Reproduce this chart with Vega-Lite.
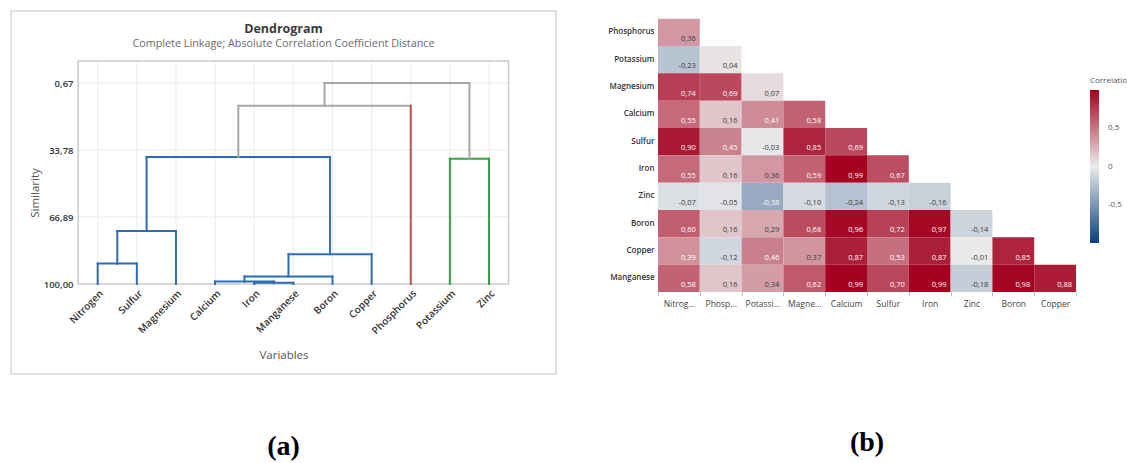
{
  "$schema": "https://vega.github.io/schema/vega-lite/v6.json",
  "background": "white",
  "padding": {"left": 10, "top": 10, "right": 0, "bottom": 0},
  "config": {
    "font": "Open Sans",
    "view": {"stroke": null},
    "locale": {
      "number": {"decimal": ",", "thousands": ".", "grouping": [3], "currency": ["", " €"], "minus": "-"}
    }
  },
  "spacing": 50,
  "resolve": {"scale": {"color": "independent"}},
  "datasets": {
    "leaves": [
      {"leaf": 1, "element": "Nitrogen"},
      {"leaf": 2, "element": "Sulfur"},
      {"leaf": 3, "element": "Magnesium"},
      {"leaf": 4, "element": "Calcium"},
      {"leaf": 5, "element": "Iron"},
      {"leaf": 6, "element": "Manganese"},
      {"leaf": 7, "element": "Boron"},
      {"leaf": 8, "element": "Copper"},
      {"leaf": 9, "element": "Phosphorus"},
      {"leaf": 10, "element": "Potassium"},
      {"leaf": 11, "element": "Zinc"}
    ],
    "sim_ticks": [
      {"similarity": 0.67},
      {"similarity": 33.78},
      {"similarity": 66.89}
    ],
    "links": [
      {"leaf_from": 1, "sim_from": 100, "leaf_to": 1, "sim_to": 89.9, "branch": "cluster1"},
      {"leaf_from": 2, "sim_from": 100, "leaf_to": 2, "sim_to": 89.9, "branch": "cluster1"},
      {"leaf_from": 1, "sim_from": 89.9, "leaf_to": 2, "sim_to": 89.9, "branch": "cluster1"},
      {"leaf_from": 1.5, "sim_from": 89.9, "leaf_to": 1.5, "sim_to": 73.8, "branch": "cluster1"},
      {"leaf_from": 3, "sim_from": 100, "leaf_to": 3, "sim_to": 73.8, "branch": "cluster1"},
      {"leaf_from": 1.5, "sim_from": 73.8, "leaf_to": 3, "sim_to": 73.8, "branch": "cluster1"},
      {"leaf_from": 2.25, "sim_from": 73.8, "leaf_to": 2.25, "sim_to": 37.2, "branch": "cluster1"},
      {"leaf_from": 5, "sim_from": 100, "leaf_to": 5, "sim_to": 99.4, "branch": "cluster1"},
      {"leaf_from": 6, "sim_from": 100, "leaf_to": 6, "sim_to": 99.4, "branch": "cluster1"},
      {"leaf_from": 5, "sim_from": 99.4, "leaf_to": 6, "sim_to": 99.4, "branch": "cluster1"},
      {"leaf_from": 4, "sim_from": 100, "leaf_to": 4, "sim_to": 98.8, "branch": "cluster1"},
      {"leaf_from": 5.5, "sim_from": 99.4, "leaf_to": 5.5, "sim_to": 98.8, "branch": "cluster1"},
      {"leaf_from": 4, "sim_from": 98.8, "leaf_to": 5.5, "sim_to": 98.8, "branch": "cluster1"},
      {"leaf_from": 4.75, "sim_from": 98.8, "leaf_to": 4.75, "sim_to": 96.3, "branch": "cluster1"},
      {"leaf_from": 7, "sim_from": 100, "leaf_to": 7, "sim_to": 96.3, "branch": "cluster1"},
      {"leaf_from": 4.75, "sim_from": 96.3, "leaf_to": 7, "sim_to": 96.3, "branch": "cluster1"},
      {"leaf_from": 5.875, "sim_from": 96.3, "leaf_to": 5.875, "sim_to": 85.3, "branch": "cluster1"},
      {"leaf_from": 8, "sim_from": 100, "leaf_to": 8, "sim_to": 85.3, "branch": "cluster1"},
      {"leaf_from": 5.875, "sim_from": 85.3, "leaf_to": 8, "sim_to": 85.3, "branch": "cluster1"},
      {"leaf_from": 6.9375, "sim_from": 85.3, "leaf_to": 6.9375, "sim_to": 37.2, "branch": "cluster1"},
      {"leaf_from": 2.25, "sim_from": 37.2, "leaf_to": 6.9375, "sim_to": 37.2, "branch": "cluster1"},
      {"leaf_from": 4.59375, "sim_from": 37.2, "leaf_to": 4.59375, "sim_to": 11.9, "branch": "join"},
      {"leaf_from": 4.59375, "sim_from": 11.9, "leaf_to": 9, "sim_to": 11.9, "branch": "join"},
      {"leaf_from": 9, "sim_from": 100, "leaf_to": 9, "sim_to": 11.9, "branch": "cluster2"},
      {"leaf_from": 10, "sim_from": 100, "leaf_to": 10, "sim_to": 38.1, "branch": "cluster3"},
      {"leaf_from": 11, "sim_from": 100, "leaf_to": 11, "sim_to": 38.1, "branch": "cluster3"},
      {"leaf_from": 10, "sim_from": 38.1, "leaf_to": 11, "sim_to": 38.1, "branch": "cluster3"},
      {"leaf_from": 10.5, "sim_from": 38.1, "leaf_to": 10.5, "sim_to": 0.67, "branch": "join"},
      {"leaf_from": 6.796875, "sim_from": 11.9, "leaf_to": 6.796875, "sim_to": 0.67, "branch": "join"},
      {"leaf_from": 6.796875, "sim_from": 0.67, "leaf_to": 10.5, "sim_to": 0.67, "branch": "join"}
    ],
    "corr": [
      {"row": "Phosphorus", "col": "Nitrogen", "r": 0.36},
      {"row": "Potassium", "col": "Nitrogen", "r": -0.23},
      {"row": "Potassium", "col": "Phosphorus", "r": 0.04},
      {"row": "Magnesium", "col": "Nitrogen", "r": 0.74},
      {"row": "Magnesium", "col": "Phosphorus", "r": 0.69},
      {"row": "Magnesium", "col": "Potassium", "r": 0.07},
      {"row": "Calcium", "col": "Nitrogen", "r": 0.55},
      {"row": "Calcium", "col": "Phosphorus", "r": 0.16},
      {"row": "Calcium", "col": "Potassium", "r": 0.41},
      {"row": "Calcium", "col": "Magnesium", "r": 0.58},
      {"row": "Sulfur", "col": "Nitrogen", "r": 0.90},
      {"row": "Sulfur", "col": "Phosphorus", "r": 0.45},
      {"row": "Sulfur", "col": "Potassium", "r": -0.03},
      {"row": "Sulfur", "col": "Magnesium", "r": 0.85},
      {"row": "Sulfur", "col": "Calcium", "r": 0.69},
      {"row": "Iron", "col": "Nitrogen", "r": 0.55},
      {"row": "Iron", "col": "Phosphorus", "r": 0.16},
      {"row": "Iron", "col": "Potassium", "r": 0.36},
      {"row": "Iron", "col": "Magnesium", "r": 0.59},
      {"row": "Iron", "col": "Calcium", "r": 0.99},
      {"row": "Iron", "col": "Sulfur", "r": 0.67},
      {"row": "Zinc", "col": "Nitrogen", "r": -0.07},
      {"row": "Zinc", "col": "Phosphorus", "r": -0.05},
      {"row": "Zinc", "col": "Potassium", "r": -0.38},
      {"row": "Zinc", "col": "Magnesium", "r": -0.10},
      {"row": "Zinc", "col": "Calcium", "r": -0.24},
      {"row": "Zinc", "col": "Sulfur", "r": -0.13},
      {"row": "Zinc", "col": "Iron", "r": -0.16},
      {"row": "Boron", "col": "Nitrogen", "r": 0.60},
      {"row": "Boron", "col": "Phosphorus", "r": 0.16},
      {"row": "Boron", "col": "Potassium", "r": 0.29},
      {"row": "Boron", "col": "Magnesium", "r": 0.68},
      {"row": "Boron", "col": "Calcium", "r": 0.96},
      {"row": "Boron", "col": "Sulfur", "r": 0.72},
      {"row": "Boron", "col": "Iron", "r": 0.97},
      {"row": "Boron", "col": "Zinc", "r": -0.14},
      {"row": "Copper", "col": "Nitrogen", "r": 0.39},
      {"row": "Copper", "col": "Phosphorus", "r": -0.12},
      {"row": "Copper", "col": "Potassium", "r": 0.46},
      {"row": "Copper", "col": "Magnesium", "r": 0.37},
      {"row": "Copper", "col": "Calcium", "r": 0.87},
      {"row": "Copper", "col": "Sulfur", "r": 0.53},
      {"row": "Copper", "col": "Iron", "r": 0.87},
      {"row": "Copper", "col": "Zinc", "r": -0.01},
      {"row": "Copper", "col": "Boron", "r": 0.85},
      {"row": "Manganese", "col": "Nitrogen", "r": 0.58},
      {"row": "Manganese", "col": "Phosphorus", "r": 0.16},
      {"row": "Manganese", "col": "Potassium", "r": 0.34},
      {"row": "Manganese", "col": "Magnesium", "r": 0.62},
      {"row": "Manganese", "col": "Calcium", "r": 0.99},
      {"row": "Manganese", "col": "Sulfur", "r": 0.70},
      {"row": "Manganese", "col": "Iron", "r": 0.99},
      {"row": "Manganese", "col": "Zinc", "r": -0.18},
      {"row": "Manganese", "col": "Boron", "r": 0.98},
      {"row": "Manganese", "col": "Copper", "r": 0.88}
    ]
  },
  "hconcat": [
    {
      "title": {"text": "(a)", "orient": "bottom", "anchor": "middle", "offset": 58, "font": "Liberation Serif", "fontSize": 28, "fontWeight": "bold", "color": "#000000"},
      "resolve": {"scale": {"color": "independent"}},
      "vconcat": [
        {
          "width": 545,
          "height": 363,
          "view": {"stroke": "#d6d6d6", "strokeWidth": 1.5},
          "title": {
            "text": "Dendrogram",
            "subtitle": "Complete Linkage; Absolute Correlation Coefficient Distance",
            "frame": "group",
            "anchor": "middle",
            "offset": -38,
            "font": "Open Sans",
            "fontSize": 12.5,
            "fontWeight": "bold",
            "color": "#3a3a3a",
            "subtitleFont": "Open Sans",
            "subtitleFontSize": 10.8,
            "subtitleColor": "#6a6a6a",
            "subtitlePadding": 3
          },
          "layer": [
            {
              "data": {"name": "leaves"},
              "mark": {"type": "rule", "color": "#ebebeb", "strokeWidth": 1},
              "encoding": {
                "x": {"field": "leaf", "type": "quantitative", "scale": {"domain": [-1.2157, 12.712], "nice": false, "zero": false}},
                "y": {"datum": -10.2},
                "y2": {"datum": 100}
              }
            },
            {
              "data": {"name": "sim_ticks"},
              "mark": {"type": "rule", "color": "#ebebeb", "strokeWidth": 1},
              "encoding": {
                "y": {"field": "similarity", "type": "quantitative", "scale": {"domain": [144.47, -34.91], "nice": false, "zero": false}},
                "x": {"datum": 0.5},
                "x2": {"datum": 11.5}
              }
            },
            {
              "data": {"values": [{}]},
              "mark": {"type": "rect", "filled": false, "stroke": "#cccccc", "strokeWidth": 1.5},
              "encoding": {
                "x": {"datum": 0.5},
                "x2": {"datum": 11.5},
                "y": {"datum": -10.2},
                "y2": {"datum": 100}
              }
            },
            {
              "data": {"name": "links"},
              "mark": {"type": "rule", "strokeWidth": 2, "strokeCap": "square"},
              "encoding": {
                "x": {
                  "field": "leaf_from", "type": "quantitative",
                  "scale": {"domain": [-1.2157, 12.712], "nice": false, "zero": false},
                  "axis": {
                    "orient": "bottom", "offset": -90,
                    "values": [1, 2, 3, 4, 5, 6, 7, 8, 9, 10, 11],
                    "labelExpr": "['Nitrogen','Sulfur','Magnesium','Calcium','Iron','Manganese','Boron','Copper','Phosphorus','Potassium','Zinc'][datum.value - 1]",
                    "labelAngle": -45, "labelAlign": "right", "labelBaseline": "top",
                    "labelFontSize": 10, "labelFontWeight": 600, "labelColor": "#333333",
                    "labelPadding": 4, "labelOverlap": false, "labelFlush": false, "labelBound": false,
                    "ticks": false, "domain": false, "grid": false,
                    "title": "Variables", "titleFontSize": 11.5, "titleFontWeight": "normal", "titleColor": "#555555", "titlePadding": 14
                  }
                },
                "x2": {"field": "leaf_to"},
                "y": {
                  "field": "sim_from", "type": "quantitative",
                  "scale": {"domain": [144.47, -34.91], "nice": false, "zero": false},
                  "axis": {
                    "orient": "left", "offset": -67,
                    "values": [0.67, 33.78, 66.89, 100],
                    "format": ".2f",
                    "labelFontSize": 9.5, "labelFontWeight": 600, "labelColor": "#333333",
                    "labelPadding": 5, "ticks": false, "domain": false, "grid": false,
                    "title": "Similarity", "titleFontSize": 11.5, "titleFontWeight": "normal", "titleColor": "#555555", "titlePadding": 3
                  }
                },
                "y2": {"field": "sim_to"},
                "color": {
                  "field": "branch", "type": "nominal",
                  "scale": {"domain": ["cluster1", "cluster2", "cluster3", "join"], "range": ["#2f6cb6", "#bf4f4c", "#37a246", "#a8a8a8"]},
                  "legend": null
                }
              }
            }
          ]
        }
      ]
    },
    {
      "width": 418,
      "height": 281,
      "data": {"name": "corr"},
      "title": {"text": "(b)", "orient": "bottom", "anchor": "middle", "frame": "group", "offset": 121, "font": "Liberation Serif", "fontSize": 28, "fontWeight": "bold", "color": "#000000"},
      "encoding": {
        "x": {
          "field": "col", "type": "nominal",
          "sort": ["Nitrogen", "Phosphorus", "Potassium", "Magnesium", "Calcium", "Sulfur", "Iron", "Zinc", "Boron", "Copper"],
          "scale": {"paddingInner": 0, "paddingOuter": 0},
          "axis": {
            "title": null, "labelAngle": 0, "labelFontSize": 8.5, "labelColor": "#444444", "labelPadding": 3,
            "labelExpr": "datum.label == 'Nitrogen' ? 'Nitrog...' : datum.label == 'Phosphorus' ? 'Phosp...' : datum.label == 'Potassium' ? 'Potassi...' : datum.label == 'Magnesium' ? 'Magne...' : datum.label",
            "domain": false, "ticks": true, "tickBand": "extent", "tickSize": 4, "tickColor": "#b5b5b5", "grid": false
          }
        },
        "y": {
          "field": "row", "type": "nominal",
          "sort": ["Phosphorus", "Potassium", "Magnesium", "Calcium", "Sulfur", "Iron", "Zinc", "Boron", "Copper", "Manganese"],
          "scale": {"paddingInner": 0, "paddingOuter": 0.14, "align": 1},
          "axis": {
            "title": null, "labelFontSize": 8, "labelFontWeight": 600, "labelColor": "#333333", "labelPadding": 4,
            "domain": false, "ticks": false, "grid": false
          }
        }
      },
      "layer": [
        {
          "mark": {"type": "rect"},
          "encoding": {
            "color": {
              "field": "r", "type": "quantitative",
              "scale": {"domain": [-1, 0, 1], "range": ["#0b3f7c", "#ececec", "#a3001e"], "interpolate": "rgb"},
              "legend": {
                "title": "Correlation", "orient": "none", "legendX": 432, "legendY": 66,
                "direction": "vertical", "gradientLength": 153, "gradientThickness": 9,
                "values": [-0.5, 0, 0.5], "format": "~g",
                "titleFontSize": 8, "titleFontWeight": "normal", "titleColor": "#555555", "titlePadding": 5,
                "labelFontSize": 8, "labelColor": "#555555", "labelOffset": 9
              }
            }
          }
        },
        {
          "mark": {"type": "text", "align": "right", "baseline": "bottom", "dx": -4, "dy": -3, "fontSize": 7.5},
          "encoding": {
            "x": {"field": "col", "type": "nominal", "bandPosition": 1, "sort": ["Nitrogen", "Phosphorus", "Potassium", "Magnesium", "Calcium", "Sulfur", "Iron", "Zinc", "Boron", "Copper"]},
            "y": {"field": "row", "type": "nominal", "bandPosition": 1, "sort": ["Phosphorus", "Potassium", "Magnesium", "Calcium", "Sulfur", "Iron", "Zinc", "Boron", "Copper", "Manganese"]},
            "text": {"field": "r", "type": "quantitative", "format": ".2f"},
            "color": {
              "condition": {"test": "abs(datum.r) >= 0.375", "value": "#ffffff"},
              "value": "#3a3a3a"
            }
          }
        }
      ]
    }
  ]
}
